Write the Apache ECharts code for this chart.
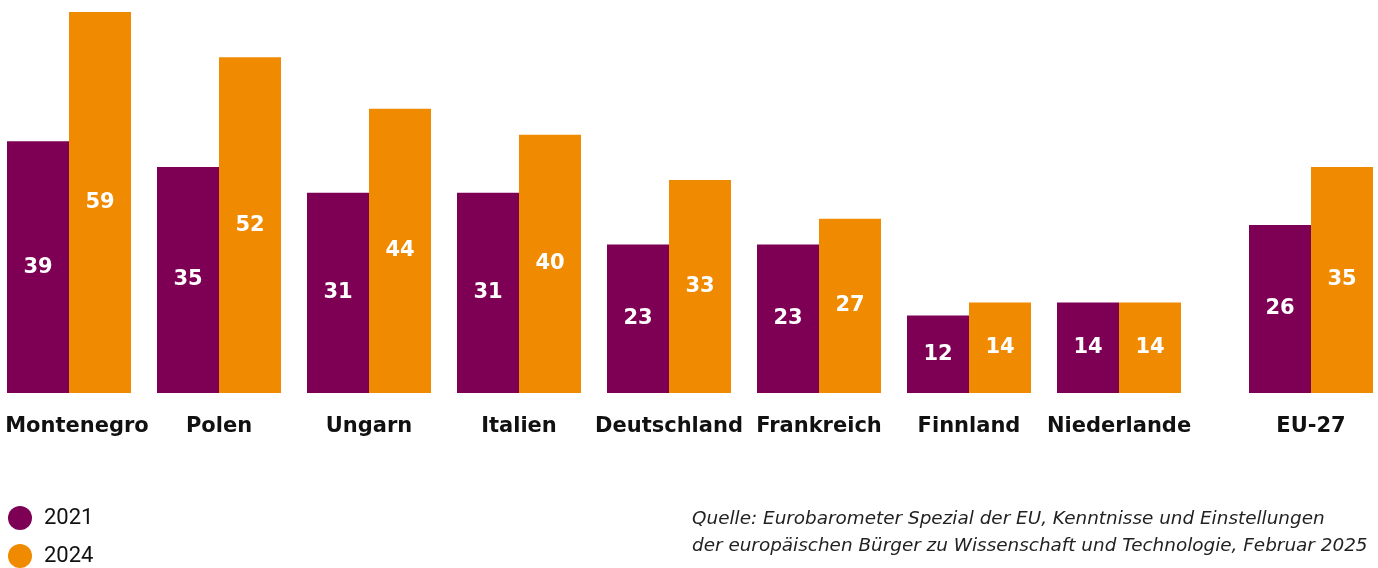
<!DOCTYPE html>
<html>
<head>
<meta charset="utf-8">
<script src="https://cdn.jsdelivr.net/npm/echarts@6/dist/echarts.min.js"></script>
<style>
  html, body { margin: 0; padding: 0; background: #fff; }
  #chart { width: 1378px; height: 568px; }
</style>
</head>
<body>
<div id="chart"></div>
<script>
var countries = ['Montenegro', 'Polen', 'Ungarn', 'Italien', 'Deutschland', 'Frankreich', 'Finnland', 'Niederlande'];
var values2021 = [39, 35, 31, 31, 23, 23, 12, 14];
var values2024 = [59, 52, 44, 40, 33, 27, 14, 14];
var euCategory = ['EU-27'];
var eu2021 = [26];
var eu2024 = [35];
var seriesNames = ['2021', '2024'];
var sourceLines = [
    'Quelle: Eurobarometer Spezial der EU, Kenntnisse und Einstellungen',
    'der europäischen Bürger zu Wissenschaft und Technologie, Februar 2025'
];

var PURPLE = '#7d0055';
var ORANGE = '#f08a00';

var chart = echarts.init(document.getElementById('chart'));

var axisLabelStyle = {
    color: '#111',
    fontFamily: 'DejaVu Sans',
    fontWeight: 'bold',
    fontSize: 21,
    margin: 23,
    interval: 0
};

// erstes Label nach rechts schieben, damit es nicht abgeschnitten wird
var countryData = countries.map(function (c, i) {
    if (i === 0) {
        return { value: c, textStyle: { padding: [0, 0, 0, 16] } };
    }
    return c;
});

var valueLabel = {
    show: true,
    position: 'inside',
    color: '#fff',
    fontFamily: 'DejaVu Sans',
    fontWeight: 'bold',
    fontSize: 21
};

function barSeries(name, color, data, idx) {
    return {
        name: name,
        type: 'bar',
        xAxisIndex: idx,
        yAxisIndex: idx,
        barWidth: 62,
        barGap: '0%',
        itemStyle: { color: color },
        label: valueLabel,
        silent: true,
        data: data
    };
}

function legendFor(name, top) {
    return {
        orient: 'vertical',
        left: 8,
        top: top,
        padding: 0,
        icon: 'circle',
        itemWidth: 24,
        itemHeight: 24,
        data: [name],
        textStyle: {
            color: '#111',
            fontFamily: 'Roboto',
            fontSize: 22,
            padding: [0, 0, 0, 7]
        }
    };
}

var option = {
    animation: false,
    backgroundColor: '#fff',
    grid: [
        { left: -6, width: 1200, top: 5.5, height: 387.5, outerBoundsMode: 'none' },
        { left: 1236, width: 150, top: 5.5, height: 387.5, outerBoundsMode: 'none' }
    ],
    xAxis: [
        {
            type: 'category', gridIndex: 0, data: countryData,
            axisLine: { show: false }, axisTick: { show: false },
            axisLabel: axisLabelStyle
        },
        {
            type: 'category', gridIndex: 1, data: euCategory,
            axisLine: { show: false }, axisTick: { show: false },
            axisLabel: axisLabelStyle
        }
    ],
    yAxis: [
        { type: 'value', gridIndex: 0, min: 0, max: 60, show: false },
        { type: 'value', gridIndex: 1, min: 0, max: 60, show: false }
    ],
    legend: [
        legendFor(seriesNames[0], 506),
        legendFor(seriesNames[1], 544)
    ],
    graphic: [{
        type: 'text',
        left: 692,
        top: 506,
        style: {
            text: sourceLines.join('\n'),
            fill: '#222',
            font: 'italic 18.4px "DejaVu Sans"',
            lineHeight: 27
        }
    }],
    series: [
        barSeries(seriesNames[0], PURPLE, values2021, 0),
        barSeries(seriesNames[1], ORANGE, values2024, 0),
        barSeries(seriesNames[0], PURPLE, eu2021, 1),
        barSeries(seriesNames[1], ORANGE, eu2024, 1)
    ]
};

chart.setOption(option);
</script>
</body>
</html>
